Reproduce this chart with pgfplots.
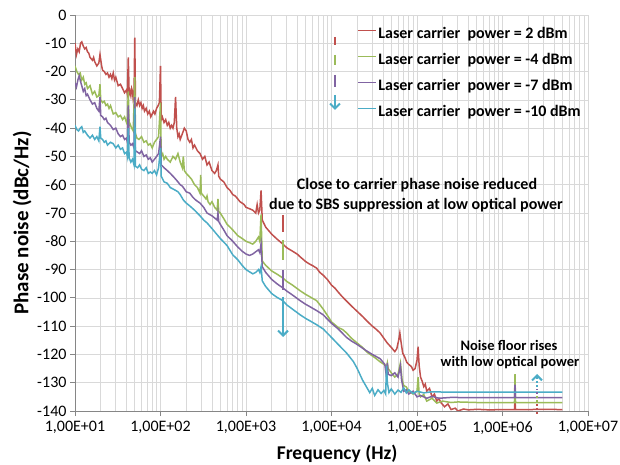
\documentclass[border=0pt]{standalone}
\usepackage{pgfplots}
\pgfplotsset{compat=1.18}
\usepackage{fontspec}
\setmainfont{Carlito}
\usetikzlibrary{arrows.meta}
\definecolor{cred}{HTML}{C0504D}
\definecolor{cgreen}{HTML}{9BBB59}
\definecolor{cpurple}{HTML}{8064A2}
\definecolor{cblue}{HTML}{4BACC6}
\definecolor{gridgray}{HTML}{D9D9D9}
\definecolor{axgray}{HTML}{868686}
\begin{document}
\begin{tikzpicture}
\useasboundingbox (-75pt,-54pt) rectangle (545pt,411pt);
\begin{axis}[
  at={(0pt,0pt)}, anchor=south west,
  scale only axis, width=513pt, height=396pt,
  xmode=log, xmin=10, xmax=1e7, ymin=-140, ymax=0,
  xtick={10,100,1000,10000,100000,1000000,10000000},
  xticklabels={{1,00E+01},{1,00E+02},{1,00E+03},{1,00E+04},{1,00E+05},{1,00E+06},{1,00E+07}},
  minor xtick={20,30,40,50,60,70,80,90,200,300,400,500,600,700,800,900,2000,3000,4000,5000,6000,7000,8000,9000,20000,30000,40000,50000,60000,70000,80000,90000,200000,300000,400000,500000,600000,700000,800000,900000,2000000,3000000,4000000,5000000,6000000,7000000,8000000,9000000},
  ytick={-140,-130,-120,-110,-100,-90,-80,-70,-60,-50,-40,-30,-20,-10,0},
  yticklabels={-140,-130,-120,-110,-100,-90,-80,-70,-60,-50,-40,-30,-20,-10,0},
  grid=both,
  major grid style={draw=gridgray, line width=0.7pt},
  minor grid style={draw=gridgray, line width=0.7pt},
  axis lines=left,
  axis line style={draw=axgray, line width=0.8pt, -},
  tick align=outside, major tick length=5pt, minor tick length=0pt,
  tick style={draw=axgray, line width=0.8pt},
  ticklabel style={font=\fontsize{16}{19}\selectfont},
  xticklabel style={yshift=-2pt},
  xlabel={Frequency (Hz)},
  ylabel={Phase noise (dBc/Hz)},
  xlabel style={font=\bfseries\fontsize{19.5}{22}\selectfont, at={(axis description cs:0.511,-0.109)}, anchor=center},
  ylabel style={font=\bfseries\fontsize{21}{24}\selectfont, at={(axis description cs:-0.103,0.475)}, anchor=center},
  legend style={draw=none, fill=none, at={(axis description cs:0.55,0.972)}, anchor=north west,
    font=\bfseries\fontsize{16}{19}\selectfont, row sep=10pt, inner sep=0pt,
    nodes={inner ysep=0pt, inner xsep=1.5pt, text height=12pt, text depth=4pt}},
  legend cell align=left,
  legend image code/.code={\draw[line width=1.5pt] (0pt,4pt) -- (18pt,4pt);},
  every axis plot/.append style={line width=1.5pt},
]
\addplot[cred] coordinates {(10,-10)(10.4,-14)(10.8,-12)(11.2,-13)(11.6,-10)(12,-9.5)(12.5,-11)(13,-12)(13.5,-11.5)(14,-13)(14.5,-13.5)(15,-15)(16,-16)(16.5,-15)(17,-16.5)(18,-18)(19,-17)(19.6,-14)(20.5,-18)(21,-19.5)(22,-20)(23,-21)(24,-20.5)(25,-22)(26,-21)(27,-22.5)(28,-20.5)(29,-23)(30,-22)(32,-25)(34,-24.5)(36,-26)(38,-27.5)(40,-26.5)(41,-28)(42,-15)(43,-28)(44,-27)(45,-28.5)(46,-26)(47,-27)(48,-30)(49,-29)(50,-8)(51,-31)(53,-32)(55,-30)(57,-32)(59,-31)(61,-33)(63,-32)(65,-34)(68,-33)(71,-35)(74,-34)(77,-36)(80,-35)(83,-34)(86,-35)(90,-33)(94,-32)(97,-31)(100,-18)(102,-37)(105,-36)(110,-38)(115,-37)(120,-39)(125,-38)(130,-40)(135,-39)(140,-40)(145,-38)(150,-29)(155,-40)(160,-43)(165,-42)(170,-44)(180,-42)(190,-40)(200,-41)(210,-44)(220,-45)(230,-44)(240,-47)(250,-46)(270,-48)(290,-49)(310,-51)(330,-50)(350,-53)(370,-52)(400,-55)(430,-56)(450,-55)(470,-53)(480,-57)(500,-58)(550,-59)(600,-61)(650,-62)(700,-63.5)(750,-64)(800,-65)(850,-66)(900,-66.5)(950,-67)(1000,-68)(1100,-68.5)(1200,-69)(1300,-70)(1350,-67)(1400,-70)(1450,-69)(1500,-62)(1550,-72.5)(1700,-75)(2000,-77.5)(2300,-79.2)(2700,-81)(3000,-82.3)(3500,-83.5)(4000,-84.6)(4300,-85.5)(5000,-87.2)(5500,-88)(6000,-88.6)(6700,-89.5)(7300,-91)(8000,-92)(9000,-93.6)(10000,-95.5)(11000,-96.6)(12000,-98)(13000,-99.2)(14500,-100.7)(16000,-102)(18000,-103.5)(20000,-104.8)(23300,-106.7)(26000,-108.2)(30000,-110)(33000,-111)(37000,-112.4)(41000,-114.3)(45000,-116)(50000,-117.5)(55000,-119)(58000,-118)(61000,-115)(63000,-112.4)(65000,-115.5)(68000,-119.5)(72000,-121)(76000,-122.8)(80000,-123.5)(86000,-124.3)(90000,-125.6)(95000,-125)(100000,-122)(103000,-117.3)(106000,-124)(110000,-128)(115000,-129.5)(120000,-131.4)(125000,-130.5)(130000,-133)(140000,-132)(150000,-135)(160000,-134)(170000,-136.5)(180000,-135.6)(190000,-137)(210000,-138.5)(230000,-137.5)(250000,-139.5)(280000,-139)(300000,-140)(350000,-139.3)(400000,-139.6)(500000,-139.4)(700000,-139.6)(1000000,-139.5)(1380000,-139.5)(1400000,-136)(1420000,-139.5)(2000000,-139.5)(3000000,-139.4)(5000000,-139.5)};
\addlegendentry{Laser carrier~ power = 2 dBm}
\addplot[cgreen] coordinates {(10,-18)(10.5,-20)(11,-21)(11.5,-20.5)(12,-23)(12.5,-22)(13,-24.5)(13.5,-24)(14,-26)(15,-25)(16,-28)(17,-27)(18,-29)(19,-28.5)(19.6,-24.5)(20,-30)(21,-31)(22,-30.5)(23,-32)(24,-31.5)(25,-33)(26,-32)(28,-35)(30,-34.5)(32,-36)(34,-35.5)(36,-37)(38,-36)(40,-38)(41,-37)(42,-27)(43,-39)(44,-38.5)(46,-40)(48,-41)(50,-22)(51,-42)(53,-43.5)(56,-44)(60,-43)(64,-45)(68,-44.5)(72,-46)(76,-45.5)(80,-47)(85,-45)(90,-44)(95,-43)(100,-31)(102,-50)(106,-49)(110,-51)(115,-50)(120,-51)(130,-52)(140,-50)(150,-51)(160,-49)(170,-52)(180,-54)(185,-50)(190,-55)(200,-56)(215,-57)(230,-58)(250,-60)(270,-61)(290,-63)(295,-56.5)(300,-63)(320,-64)(340,-65)(350,-64)(360,-66)(380,-67)(400,-66)(430,-68)(460,-69)(470,-65)(480,-69.5)(500,-70)(550,-72)(600,-74)(650,-75)(700,-76)(750,-77)(800,-78)(850,-78.5)(900,-79)(1000,-80)(1100,-80.5)(1200,-81)(1300,-80)(1400,-78.5)(1450,-80)(1500,-70.5)(1550,-87)(1700,-88.5)(2000,-90.5)(2300,-91.6)(2700,-93)(3000,-94.2)(3500,-95.5)(4300,-97.5)(5000,-98.8)(5500,-99.5)(6700,-101)(7300,-102.4)(8000,-104)(9000,-106.3)(10000,-108.5)(12000,-110.5)(13500,-111.2)(15000,-112.4)(17000,-114.2)(20000,-116)(23000,-117.5)(26000,-119.2)(30000,-120.5)(33000,-121.4)(37000,-122.6)(42000,-123.7)(44000,-124.5)(45000,-123)(46000,-125)(50000,-126.5)(55000,-128)(60000,-127)(64000,-123)(67000,-129)(70000,-131)(75000,-131.5)(80000,-133)(90000,-134)(100000,-133)(103000,-128)(106000,-134)(110000,-135)(120000,-134.2)(130000,-136.5)(150000,-135.5)(170000,-137.2)(200000,-136.5)(250000,-137)(300000,-136.8)(500000,-137)(1000000,-137)(1380000,-137)(1400000,-127)(1420000,-137)(3000000,-137)(5000000,-137)};
\addlegendentry{Laser carrier~ power = -4 dBm}
\addplot[cpurple] coordinates {(10,-24)(10.4,-25.5)(10.8,-23)(11.2,-21.5)(11.6,-23.5)(12,-25)(12.5,-27)(13,-26)(13.5,-28.5)(14,-28)(15,-30)(16,-31.5)(17,-31)(18,-33)(19,-34)(19.6,-29)(20,-35.5)(21,-36)(22,-37)(23,-36.5)(24,-38)(26,-39)(28,-40.5)(30,-40)(32,-42)(34,-43)(36,-42.5)(38,-44)(40,-43.5)(41,-45)(42,-32)(43,-45)(45,-46)(47,-45.5)(49,-47)(50,-29)(51,-48)(54,-48.5)(57,-49)(60,-48)(64,-50)(68,-49.5)(72,-51)(76,-50.5)(80,-52)(85,-51)(90,-50)(95,-49)(100,-43)(102,-53)(106,-53.5)(110,-54)(120,-55)(130,-56)(140,-57)(150,-58)(160,-59)(170,-60)(180,-60.5)(190,-61.5)(200,-62.5)(220,-63)(240,-64.5)(260,-65.5)(290,-66.5)(320,-68)(350,-70)(400,-71)(460,-72.5)(470,-70)(480,-73)(500,-74)(550,-76)(600,-78)(700,-80)(800,-82)(900,-83.5)(1000,-84.5)(1100,-85)(1200,-84.5)(1300,-83.7)(1400,-83)(1450,-84)(1500,-81)(1550,-89)(1700,-91)(2000,-93.5)(2300,-95)(2700,-96.5)(3000,-97.6)(3500,-99)(4300,-101)(5000,-102.3)(5500,-103)(6700,-104.5)(8000,-106)(9000,-107.6)(10000,-109)(12000,-111)(15000,-114)(17000,-115.2)(20000,-116.5)(25000,-118.5)(30000,-120)(37000,-121.5)(42000,-123.5)(44000,-128)(45000,-123)(46000,-127)(50000,-127.5)(55000,-126.5)(60000,-128)(64000,-124)(66000,-129)(70000,-133)(75000,-132.5)(80000,-134)(90000,-133)(100000,-135)(110000,-134.5)(130000,-135.5)(150000,-134.8)(180000,-135.5)(250000,-135.2)(500000,-135.3)(1000000,-135.3)(1380000,-135.3)(1400000,-130.7)(1420000,-135.3)(5000000,-135.3)};
\addlegendentry{Laser carrier~ power = -7 dBm}
\addplot[cblue] coordinates {(10,-39)(10.5,-40.5)(11,-41)(11.5,-40)(12,-39.5)(12.5,-41.5)(13,-41)(14,-42.5)(15,-43.5)(16,-42.5)(17,-44)(18,-43)(19,-44.5)(19.6,-39.5)(20,-43.5)(21,-44)(22,-45)(23,-44.5)(24,-46)(26,-45)(28,-45.5)(30,-47)(32,-46)(34,-47.5)(36,-47)(38,-49)(40,-48.5)(41,-50)(42,-40)(43,-50.5)(45,-52)(47,-51)(49,-53)(50,-33)(51,-53.5)(54,-54)(57,-53)(60,-54.5)(64,-55)(68,-54)(72,-56)(76,-55.5)(80,-56)(85,-55)(90,-56.5)(95,-54)(100,-47)(102,-57)(106,-58)(110,-59)(120,-59.5)(130,-61)(140,-61.5)(150,-62)(160,-62.5)(170,-63.5)(185,-65.4)(200,-66.5)(220,-67.5)(250,-69)(290,-71)(320,-72.5)(350,-73.5)(400,-75.5)(460,-77.7)(500,-79)(600,-81.5)(700,-84.8)(800,-86.5)(900,-88.5)(1000,-90)(1100,-90.8)(1200,-91.5)(1300,-91)(1400,-90)(1450,-91)(1500,-89)(1550,-94)(1700,-96)(2000,-98.5)(2300,-99.8)(2700,-101)(3000,-102.5)(3500,-104)(4300,-106)(5000,-107.3)(5500,-108)(6700,-109.5)(8000,-111)(9000,-112.6)(10000,-114)(12000,-116.5)(15000,-119.5)(18000,-122.5)(20000,-125)(23000,-129)(26000,-131.8)(28000,-133.5)(30000,-132)(32000,-134.5)(35000,-132.5)(38000,-133.8)(41000,-132.7)(43000,-134)(44000,-124)(45000,-130)(47000,-133.5)(50000,-132.2)(55000,-134)(60000,-132.6)(65000,-133.4)(70000,-131.8)(75000,-133.6)(80000,-132.5)(90000,-133.8)(100000,-133)(120000,-133.6)(150000,-133.2)(200000,-133.3)(1000000,-133.3)(5000000,-133.3)};
\addlegendentry{Laser carrier~ power = -10 dBm}
\end{axis}
% annotation arrows
\draw[cred, line width=2pt] (260pt,374pt) -- (260pt,366pt);
\draw[cgreen, line width=2pt] (260pt,356pt) -- (260pt,346pt);
\draw[cpurple, line width=2pt] (260pt,336pt) -- (260pt,324pt);
\draw[cblue, line width=2pt, -{Straight Barb[length=5pt,width=10pt]}] (260pt,316pt) -- (260pt,301pt);
\draw[cred, line width=2pt] (208pt,196pt) -- (208pt,179pt);
\draw[cgreen, line width=2pt] (208pt,171pt) -- (208pt,151pt);
\draw[cpurple, line width=2pt] (208pt,141pt) -- (208pt,121pt);
\draw[cblue, line width=2pt, -{Straight Barb[length=5pt,width=10pt]}] (208pt,114pt) -- (208pt,74pt);
\draw[cred, line width=2pt, dash pattern=on 2pt off 2pt] (462pt,-3pt) -- (462pt,7pt);
\draw[cgreen, line width=2pt, dash pattern=on 2pt off 2pt] (462pt,9pt) -- (462pt,15pt);
\draw[cpurple, line width=2pt, dash pattern=on 2pt off 2pt] (462pt,17pt) -- (462pt,22pt);
\draw[cblue, line width=2pt, dash pattern=on 2pt off 2pt, -{Straight Barb[length=5pt,width=10pt]}] (462pt,24pt) -- (462pt,37pt);
\node[font=\bfseries\fontsize{16}{19}\selectfont] at (342pt,226pt) {Close to carrier phase noise reduced};
\node[font=\bfseries\fontsize{16}{19}\selectfont] at (341pt,206pt) {due to SBS suppression at low optical power};
\node[font=\bfseries\fontsize{14.5}{17}\selectfont] at (434pt,66pt) {Noise floor rises};
\node[font=\bfseries\fontsize{14.5}{17}\selectfont] at (435pt,48pt) {with low optical power};
\end{tikzpicture}
\end{document}
